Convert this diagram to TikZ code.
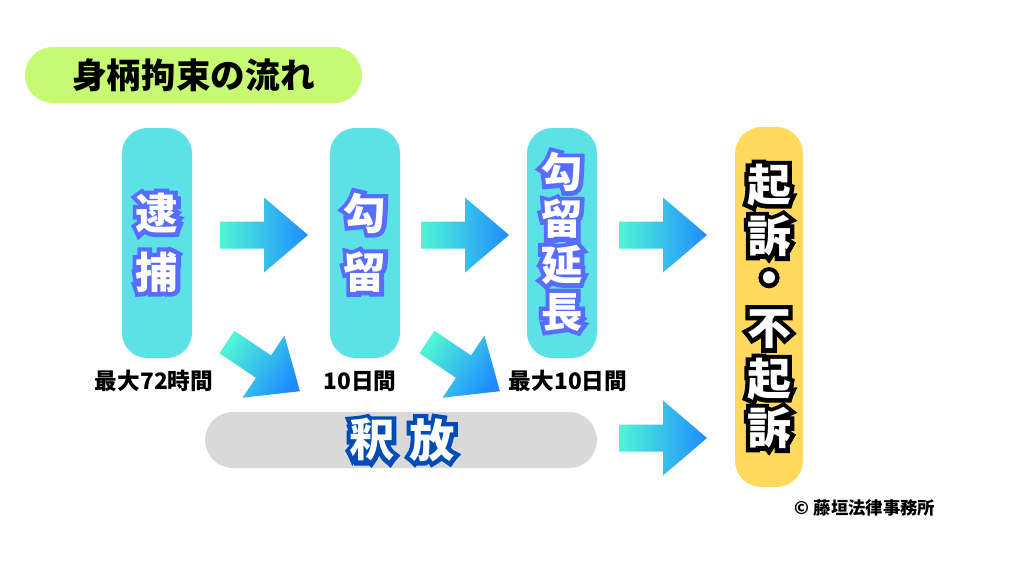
\documentclass[tikz,border=0pt]{standalone}
\usepackage{fontspec}
\setmainfont{Noto Sans CJK JP}
\newfontfamily\heavy{Noto Sans CJK JP Black}
\usetikzlibrary{calc}
\definecolor{tgreen}{RGB}{198,250,114}
\definecolor{tcyan}{RGB}{92,225,230}
\definecolor{tyellow}{RGB}{255,218,92}
\definecolor{tgray}{RGB}{217,217,217}
\definecolor{arrA}{RGB}{80,245,215}
\definecolor{arrB}{RGB}{30,140,255}
\tikzset{
  cbox/.style={fill=tcyan, rounded corners=19pt, minimum width=52.5pt, minimum height=172.5pt, inner sep=0pt},
  ybox/.style={fill=tyellow, rounded corners=20pt, minimum width=51pt, minimum height=270pt, inner sep=0pt},
  gpill/.style={fill=tgray, rounded corners=21pt, minimum width=294pt, minimum height=42pt, inner sep=0pt},
  tpill/.style={fill=tgreen, rounded corners=21pt, minimum width=252.75pt, minimum height=42pt, inner sep=0pt, font=\bfseries\fontsize{26}{26}\selectfont},
  otx/.style={font=\heavy\fontsize{#1}{#1}\selectfont, inner sep=0pt, text=white},
  lbl/.style={font=\bfseries\fontsize{17}{17}\selectfont, inner sep=0pt, text=black},
  garrow/.style={left color=arrA, right color=arrB},
}
% outlined glyph: stroked copy (PDF text render mode 1) under the white fill
\newcommand\ol[3]{\rlap{\special{pdf:literal direct 1 Tr #2 w 0 j 2.2 M #1 RG}#3\special{pdf:literal direct 0 Tr 1 w 0 j 10 M}}#3}
\newcommand\olblue[1]{\ol{0.345 0.424 1}{6.5}{#1}}
\newcommand\oldark[1]{\ol{0 0.298 0.706}{6.5}{#1}}
\newcommand\olblack[1]{\ol{0 0 0}{6.5}{#1}}
\newcommand\arrowpath{(0,-13.5) -- (44,-13.5) -- (44,-37.5) -- (88,0) -- (44,37.5) -- (44,13.5) -- (0,13.5) -- cycle}
\begin{document}
\begin{tikzpicture}[x=0.75pt,y=-0.75pt]
\useasboundingbox (0,0) rectangle (1024,576);
\fill[white] (0,0) rectangle (1024,576);
% title
\node[tpill] (title) at (193.5,75) {身柄拘束の流れ};
% boxes
\node[cbox] (taiho) at (157,243) {};
\node[cbox] (koryu) at (365,243) {};
\node[cbox] (encho) at (562,243) {};
\node[ybox] (kiso) at (769,307) {};
\node[gpill] (shaku) at (401,440) {};
% box texts
\node[otx=32] (t1) at (157,213) {\olblue{逮}};
\node[otx=32] (t2) at (157,272) {\olblue{捕}};
\node[otx=32] (k1) at (365,213) {\olblue{勾}};
\node[otx=32] (k2) at (365,272) {\olblue{留}};
\node[otx=31] (e1) at (562,172) {\olblue{勾}};
\node[otx=31] (e2) at (562,219) {\olblue{留}};
\node[otx=31] (e3) at (562,265) {\olblue{延}};
\node[otx=31] (e4) at (562,312) {\olblue{長}};
\node[otx=33] (s1) at (769,185) {\olblack{起}};
\node[otx=33] (s2) at (769,236) {\olblack{訴}};
\node[otx=33] (s3) at (769,283) {\olblack{・}};
\node[otx=33] (s4) at (769,329) {\olblack{不}};
\node[otx=33] (s5) at (769,379) {\olblack{起}};
\node[otx=33] (s6) at (769,428) {\olblack{訴}};
\node[otx=34] (r1) at (372,440) {\oldark{釈}};
\node[otx=34] (r2) at (432,440) {\oldark{放}};
% labels
\node[lbl] (l1) at (154,381) {最大72時間};
\node[lbl] (l2) at (360,381) {10日間};
\node[lbl] (l3) at (568,381) {最大10日間};
\node[font=\bfseries\fontsize{13}{13}\selectfont, inner sep=0pt] (copy) at (865,508) {© 藤垣法律事務所};
% arrows
\begin{scope}[shift={(220,235)}] \path[garrow] \arrowpath; \end{scope}
\begin{scope}[shift={(421,235)}] \path[garrow] \arrowpath; \end{scope}
\begin{scope}[shift={(619,235)}] \path[garrow] \arrowpath; \end{scope}
\begin{scope}[shift={(619,438)}] \path[garrow] \arrowpath; \end{scope}
\begin{scope}[shift={(227,342)}, rotate=-34] \path[garrow, shading angle=56] \arrowpath; \end{scope}
\begin{scope}[shift={(427,342)}, rotate=-34] \path[garrow, shading angle=56] \arrowpath; \end{scope}
\end{tikzpicture}
\end{document}
